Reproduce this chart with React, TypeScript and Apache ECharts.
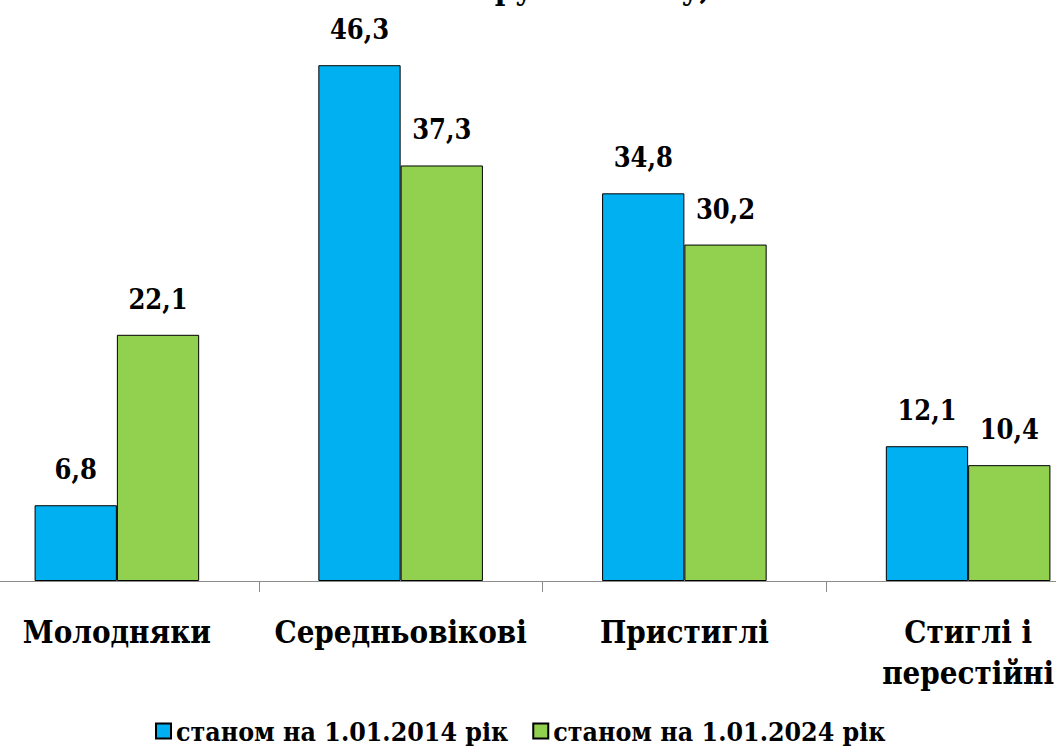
import React, { useEffect, useRef } from "react";
import * as echarts from "echarts";

const categories = ["Молодняки", "Середньовікові", "Пристиглі", "Стиглі і\nперестійні"];
const series2014 = [6.8, 46.3, 34.8, 12.1];
const series2024 = [22.1, 37.3, 30.2, 10.4];
const seriesNames = ["станом на 1.01.2014 рік", "станом на 1.01.2024 рік"];
const titleText = "за групами віку, %";

const FONT = "DejaVu Serif Condensed";

export default function App() {
  const ref = useRef<HTMLDivElement>(null);
  useEffect(() => {
    if (!ref.current) return;
    const chart = echarts.init(ref.current, undefined, { renderer: "svg" });
    const labelCfg = {
      show: true,
      position: "top",
      distance: 22,
      fontFamily: FONT,
      fontWeight: "bold",
      fontSize: 27,
      color: "#000",
      formatter: (p: any) => String(p.value.toFixed(1)).replace(".", ","),
    };
    chart.setOption({
      animation: false,
      backgroundColor: "#fff",
      graphic: [
        {
          type: "text",
          left: 430,
          top: -28,
          style: { text: titleText, fontFamily: FONT, fontWeight: "bold", fontSize: 32, fill: "#000" },
        },
      ],
      grid: { left: -25, right: -54, top: 24, bottom: 166, containLabel: false, outerBoundsMode: "none" },
      legend: {
        data: seriesNames,
        top: 710,
        left: 150,
        icon: "rect",
        itemWidth: 15,
        itemHeight: 15,
        itemGap: 24,
        textStyle: { fontFamily: FONT, fontWeight: "bold", fontSize: 26.5, lineHeight: 32, color: "#000" },
      },
      xAxis: {
        type: "category",
        data: categories,
        axisLine: { lineStyle: { color: "#8c8c8c", width: 1 } },
        axisTick: { show: true, length: 11, lineStyle: { color: "#8c8c8c" } },
        axisLabel: {
          margin: 30,
          interval: 0,
          fontFamily: FONT,
          fontWeight: "bold",
          fontSize: 31,
          lineHeight: 41,
          color: "#000",
        },
      },
      yAxis: { type: "value", min: 0, max: 50, show: false },
      series: [
        {
          name: seriesNames[0],
          type: "bar",
          data: series2014,
          barGap: "0%",
          barCategoryGap: "42%",
          itemStyle: { color: "#00B0F0", borderColor: "#000", borderWidth: 1 },
          label: labelCfg,
        },
        {
          name: seriesNames[1],
          type: "bar",
          data: series2024,
          barGap: "0%",
          barCategoryGap: "42%",
          itemStyle: { color: "#92D050", borderColor: "#000", borderWidth: 1 },
          label: labelCfg,
        },
      ],
    });
    return () => chart.dispose();
  }, []);
  return <div ref={ref} style={{ position: "fixed", left: 0, top: 0, width: 1056, height: 747, background: "#fff" }} />;
}
